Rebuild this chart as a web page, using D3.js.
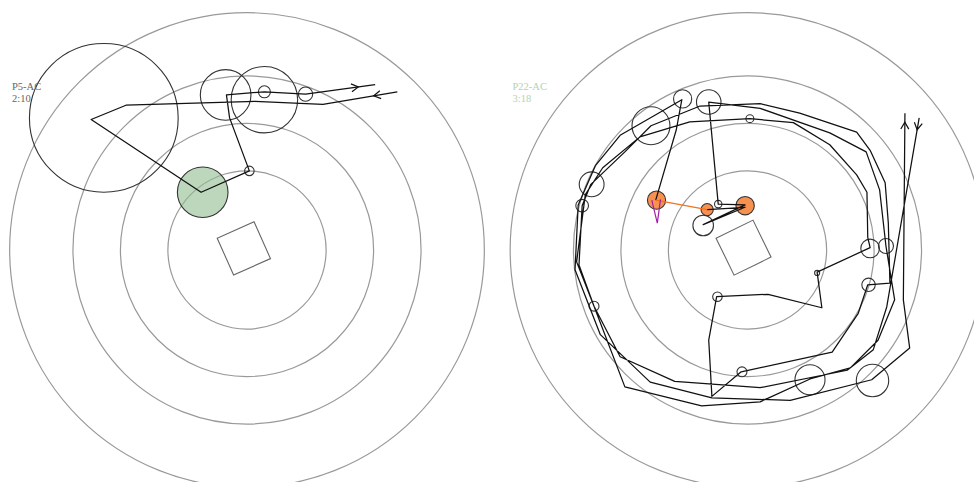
<!DOCTYPE html>
<html>
<head>
<meta charset="utf-8">
<script src="https://cdn.jsdelivr.net/npm/d3@7"></script>
<style>
  body { margin: 0; background: #fff; }
  svg { display: block; }
</style>
</head>
<body>
<svg id="chart" width="974" height="482"></svg>
<script>
// Distance rings around the table, in cm
const rings = [100, 160, 220, 300];

// ---- Session P5-AC ----
const p5Label = ["P5-AC", "2:10"];
const p5Table = { x: -4, y: 2, size: 51, angle: 24 };
// walked path, cm relative to the room centre (y up)
const p5Path = [
  [190, 200], [96, 184], [10, 188], [-153, 183], [-197, 165], [-58, 73],
  [3, 100], [-22, 167], [-26, 196], [22, 200], [74, 197], [162, 209]
];
// stops: position (cm) and radius (cm); kind marks the highlighted stop
const p5Stops = [
  { x: -181, y: 167, r: 94, kind: "" },
  { x: -56, y: 73, r: 32, kind: "green" },
  { x: -27, y: 196, r: 32, kind: "" },
  { x: 22, y: 190, r: 42, kind: "" },
  { x: 22, y: 200, r: 7.6, kind: "" },
  { x: 74, y: 197, r: 9, kind: "" },
  { x: 3, y: 100, r: 6, kind: "" }
];
const p5Highlight = [];
const p5Gaze = [];

// ---- Session P22-AC ----
const p22Label = ["P22-AC", "3:18"];
const p22Table = { x: -5, y: 3, size: 52, angle: 26 };
const p22Path = [
  [217, 167], [176, -72], [159, -126], [126, -152], [16, -174], [-92, -166],
  [-161, -135], [-194, -71], [-213, -19], [-209, 56], [-198, 83], [-155, 124],
  [-122, 157], [-60, 182], [16, 185], [66, 173], [138, 149], [155, 126],
  [174, 85], [178, 34], [180, -42], [152, -44], [140, -80], [107, -129],
  [-8, -154], [-45, -185], [-49, -114], [-39, -59], [26, -56], [94, -73],
  [88, -28], [155, 3], [152, 16], [151, 73], [138, 95], [104, 133],
  [58, 161], [3, 166], [-73, 162], [-136, 143], [-183, 104], [-205, 70],
  [-216, -15], [-194, -71], [-155, -173], [-58, -197], [16, -192], [79, -163],
  [130, -149], [165, -114], [186, -63], [175, 5], [167, 76], [150, 124],
  [104, 148], [16, 179], [-49, 187], [-37, 58], [-3, 57], [-56, 32],
  [-3, 54], [-51, 51], [-116, 63], [-90, 152], [-83, 190], [-161, 145],
  [-192, 107], [-214, 57], [-218, -25], [-186, -107], [-123, -167], [-45, -187],
  [54, -190], [157, -164], [205, -124], [197, -63], [199, 173]
];
const p22Stops = [
  { x: -122, y: 157, r: 24, kind: "" },
  { x: -82, y: 191, r: 11.5, kind: "" },
  { x: -49, y: 187, r: 15.5, kind: "" },
  { x: 3, y: 166, r: 5, kind: "" },
  { x: -197, y: 83, r: 15.7, kind: "" },
  { x: -209, y: 56, r: 8, kind: "" },
  { x: -115, y: 63, r: 11.5, kind: "orange" },
  { x: -51, y: 51, r: 7.7, kind: "orange" },
  { x: -3, y: 56, r: 11.6, kind: "orange" },
  { x: -37, y: 58, r: 4.7, kind: "" },
  { x: -56, y: 31, r: 13, kind: "" },
  { x: -38, y: -59, r: 6, kind: "" },
  { x: -194, y: -71, r: 6.3, kind: "" },
  { x: -7, y: -154, r: 6.3, kind: "" },
  { x: 88, y: -29, r: 3.2, kind: "" },
  { x: 155, y: 2, r: 11.8, kind: "" },
  { x: 175, y: 5, r: 9.5, kind: "" },
  { x: 153, y: -44, r: 8.5, kind: "" },
  { x: 79, y: -164, r: 19, kind: "" },
  { x: 158, y: -165, r: 20.5, kind: "" }
];
// segment walked while attending (drawn in orange)
const p22Highlight = [[-51, 51], [-116, 63]];
// gaze cone at the first attended stop
const p22Gaze = [[-121, 63], [-114, 34], [-110, 64]];

const svg = d3.select("#chart");

const panels = [
  { cx: 247, cy: 250, label: p5Label, labelColor: "#666", table: p5Table,
    path: p5Path, stops: p5Stops, highlight: p5Highlight, gaze: p5Gaze,
    inArrow: 24, outArrow: 17 },
  { cx: 747.5, cy: 250, label: p22Label, labelColor: "#b3d3b3", table: p22Table,
    path: p22Path, stops: p22Stops, highlight: p22Highlight, gaze: p22Gaze,
    inArrow: 12, outArrow: 9 }
];

const fills = { "": "none", green: "rgba(143,188,143,0.6)", orange: "#f79150" };

function chevron(g, a, b, dist, fromStart) {
  // open arrow head placed `dist` px from one end of segment a->b, pointing a->b
  const dx = b[0] - a[0], dy = b[1] - a[1];
  const len = Math.hypot(dx, dy);
  const t = fromStart ? dist / len : 1 - dist / len;
  const tip = [a[0] + dx * t, a[1] + dy * t];
  const ang = Math.atan2(dy, dx);
  const L = 8, spread = Math.PI / 6;
  const p1 = [tip[0] - L * Math.cos(ang - spread), tip[1] - L * Math.sin(ang - spread)];
  const p2 = [tip[0] - L * Math.cos(ang + spread), tip[1] - L * Math.sin(ang + spread)];
  g.append("path")
    .attr("d", `M${p1}L${tip}L${p2}`)
    .attr("fill", "none").attr("stroke", "#111").attr("stroke-width", 1.2);
}

const same = (a, b) => a[0] === b[0] && a[1] === b[1];

panels.forEach(p => {
  const x = d3.scaleLinear().domain([-316, 316]).range([p.cx - 250, p.cx + 250]);
  const y = d3.scaleLinear().domain([-316, 316]).range([p.cy + 250, p.cy - 250]);
  const k = x(1) - x(0);
  const g = svg.append("g");

  g.selectAll("circle.ring").data(rings).join("circle")
    .attr("class", "ring")
    .attr("cx", x(0)).attr("cy", y(0)).attr("r", d => d * k)
    .attr("fill", "none").attr("stroke", "#999").attr("stroke-width", 1.2);

  const s = p.table.size * k;
  g.append("rect")
    .attr("x", -s / 2).attr("y", -s / 2).attr("width", s).attr("height", s)
    .attr("transform", `translate(${x(p.table.x)},${y(p.table.y)}) rotate(${-p.table.angle})`)
    .attr("fill", "none").attr("stroke", "#666").attr("stroke-width", 1.1);

  g.selectAll("circle.stop").data(p.stops).join("circle")
    .attr("class", "stop")
    .attr("cx", d => x(d.x)).attr("cy", d => y(d.y)).attr("r", d => d.r * k)
    .attr("fill", d => fills[d.kind])
    .attr("stroke", "#333").attr("stroke-width", 1.1);

  // split the walk where the highlighted segment sits, so it is drawn only once
  const line = d3.line().x(d => x(d[0])).y(d => y(d[1]));
  let pieces = [p.path];
  if (p.highlight.length) {
    const i = p.path.findIndex((d, j) => j < p.path.length - 1 &&
      same(d, p.highlight[0]) && same(p.path[j + 1], p.highlight[1]));
    if (i >= 0) pieces = [p.path.slice(0, i + 1), p.path.slice(i + 1)];
  }
  g.append("path").attr("d", pieces.map(line).join(""))
    .attr("fill", "none").attr("stroke", "#111").attr("stroke-width", 1.25)
    .attr("stroke-linejoin", "round");

  if (p.highlight.length) {
    g.append("path").attr("d", line(p.highlight))
      .attr("fill", "none").attr("stroke", "#f5711e").attr("stroke-width", 1.4);
  }
  if (p.gaze.length) {
    g.append("path").attr("d", line(p.gaze))
      .attr("fill", "none").attr("stroke", "#a21ea8").attr("stroke-width", 1.2);
  }

  const pts = p.path.map(d => [x(d[0]), y(d[1])]);
  chevron(g, pts[0], pts[1], p.inArrow, true);
  chevron(g, pts[pts.length - 2], pts[pts.length - 1], p.outArrow, false);

  g.selectAll("text.lab").data(p.label).join("text")
    .attr("class", "lab")
    .attr("x", p.cx - 235).attr("y", (d, i) => 90 + i * 12)
    .attr("font-family", "Liberation Serif, Times New Roman, serif")
    .attr("font-size", 10.5).attr("fill", p.labelColor)
    .text(d => d);
});
</script>
</body>
</html>
